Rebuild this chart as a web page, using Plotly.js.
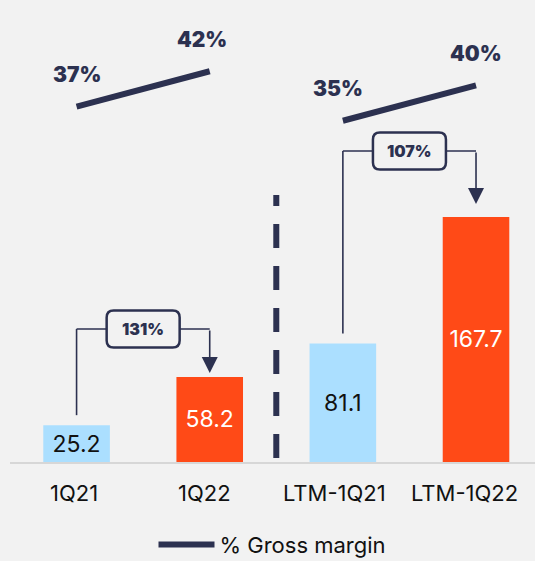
<!DOCTYPE html>
<html>
<head>
<meta charset="utf-8">
<script src="https://cdn.plot.ly/plotly-3.0.1.min.js"></script>
<style>html,body{margin:0;padding:0;background:#f2f2f2;}#chart{width:535px;height:561px;}</style>
</head>
<body>
<div id="chart"></div>
<script>
// ---- data ----
const categories = ['1Q21', '1Q22', 'LTM-1Q21', 'LTM-1Q22'];
const revenue = [25.2, 58.2, 81.1, 167.7];
const grossMargin = [37, 42, 35, 40];            // % gross margin
const growthLabels = ['131%', '107%'];          // growth 1Q21->1Q22, LTM-1Q21->LTM-1Q22

// ---- styling ----
const NAVY = '#2c3150';
const BLUE = '#abdfff';
const ORANGE = '#ff4a17';
const BG = '#f2f2f2';
const FONT = 'Inter, "Noto Sans", sans-serif';

const plotH = 462;            // plot area height in px (t=0)
const plotW = 525;
const xRange = [-0.5, 3.443];
const yMax = 316.2;
const pxToY = yMax / plotH;                      // y data units per pixel
const pxToX = (xRange[1] - xRange[0]) / plotW;   // x units per pixel
const y2Range = [-13.27, 52.08];

const barColors = [BLUE, ORANGE, BLUE, ORANGE];
const textColors = ['#111111', '#ffffff', '#111111', '#ffffff'];

const traces = [
  {
    type: 'bar',
    x: categories,
    y: revenue,
    width: 0.5,
    marker: {color: barColors},
    text: revenue.map(v => v.toFixed(1)),
    textposition: 'inside',
    insidetextanchor: 'middle',
    constraintext: 'none',
    textfont: {family: FONT, size: 23, color: textColors},
    showlegend: false,
    hoverinfo: 'skip'
  },
  {
    type: 'scatter',
    mode: 'lines',
    x: [categories[0], categories[1], null, categories[2], categories[3]],
    y: [grossMargin[0], grossMargin[1], null, grossMargin[2], grossMargin[3]],
    yaxis: 'y2',
    connectgaps: false,
    line: {color: NAVY, width: 6, shape: 'spline'},
    name: '% Gross margin',
    showlegend: true,
    hoverinfo: 'skip'
  }
];

const shapes = [];
const annotations = [];

// category labels (slightly left of bar centres, as in the original)
categories.forEach((c, i) => {
  annotations.push({
    x: i, y: -0.067, xref: 'x', yref: 'paper', yanchor: 'middle',
    text: c, showarrow: false, xshift: -(2.5 + 3 * i),
    font: {family: FONT, size: 22, color: '#111111'}
  });
});

// gross margin labels
grossMargin.forEach((g, i) => {
  annotations.push({
    x: i, y: g, xref: 'x', yref: 'y2',
    text: g + '%', showarrow: false,
    yshift: 32, xshift: i === 1 ? -8 : (i === 2 ? -5 : 0),
    font: {family: FONT, size: 21, color: NAVY, weight: 900}
  });
});

// dashed separator
shapes.push({
  type: 'line', xref: 'x', yref: 'y',
  x0: 1.5, x1: 1.5, y0: 4 * pxToY, y1: 267 * pxToY,
  line: {color: NAVY, width: 6, dash: '24px,18px'}
});

// rounded box path (pixel sizes converted to data units)
function roundedBox(cx, cy, wPx, hPx, rPx) {
  const hw = wPx / 2 * pxToX, hh = hPx / 2 * pxToY;
  const rx = rPx * pxToX, ry = rPx * pxToY;
  const l = cx - hw, r = cx + hw, b = cy - hh, t = cy + hh;
  return `M${l + rx},${t} L${r - rx},${t} Q${r},${t} ${r},${t - ry} L${r},${b + ry} Q${r},${b} ${r - rx},${b} ` +
         `L${l + rx},${b} Q${l},${b} ${l},${b + ry} L${l},${t - ry} Q${l},${t} ${l + rx},${t} Z`;
}

// growth brackets
const brackets = [
  {a: 0, b: 1, levelPx: 133, startGapPx: 10, tipGapPx: 4},
  {a: 2, b: 3, levelPx: 311, startGapPx: 10, tipGapPx: 13}
];
brackets.forEach((br, k) => {
  const level = br.levelPx * pxToY;
  const start = revenue[br.a] + br.startGapPx * pxToY;
  const tip = revenue[br.b] + br.tipGapPx * pxToY;
  shapes.push({type: 'line', xref: 'x', yref: 'y', x0: br.a, x1: br.a, y0: start, y1: level,
               line: {color: NAVY, width: 1.6}});
  shapes.push({type: 'line', xref: 'x', yref: 'y', x0: br.a, x1: br.b, y0: level, y1: level,
               line: {color: NAVY, width: 1.6}});
  shapes.push({type: 'path', xref: 'x', yref: 'y',
               path: roundedBox((br.a + br.b) / 2, level, 73, 37, 7),
               fillcolor: BG, line: {color: NAVY, width: 2.5}});
  annotations.push({
    x: br.b, y: tip, xref: 'x', yref: 'y',
    ax: br.b, ay: level, axref: 'x', ayref: 'y',
    text: '', showarrow: true, arrowhead: 2, arrowsize: 2, arrowwidth: 1.6,
    arrowcolor: NAVY, standoff: 0
  });
  annotations.push({
    x: (br.a + br.b) / 2, y: level, xref: 'x', yref: 'y',
    text: growthLabels[k], showarrow: false,
    font: {family: FONT, size: 16, color: NAVY, weight: 900}
  });
});

const layout = {
  width: 535, height: 561,
  paper_bgcolor: BG, plot_bgcolor: BG,
  margin: {l: 10, r: 0, t: 0, b: 99, autoexpand: false},
  font: {family: FONT, color: '#111111'},
  xaxis: {
    type: 'category',
    range: xRange,
    showgrid: false, zeroline: false,
    showline: true, linecolor: '#d7d7d7', linewidth: 2,
    ticks: '', showticklabels: false,
    fixedrange: true
  },
  yaxis: {
    range: [0, yMax], visible: false, showgrid: false, zeroline: false, fixedrange: true
  },
  yaxis2: {
    overlaying: 'y', range: y2Range, visible: false, showgrid: false, zeroline: false
  },
  showlegend: true,
  legend: {
    orientation: 'h', x: 0.5, xanchor: 'center', y: -0.179, yanchor: 'middle',
    font: {family: FONT, size: 22, color: '#111111'},
    itemwidth: 56, bgcolor: 'rgba(0,0,0,0)'
  },
  shapes: shapes,
  annotations: annotations,
  bargap: 0.5
};

Plotly.newPlot('chart', traces, layout, {staticPlot: true, displayModeBar: false});
</script>
</body>
</html>
